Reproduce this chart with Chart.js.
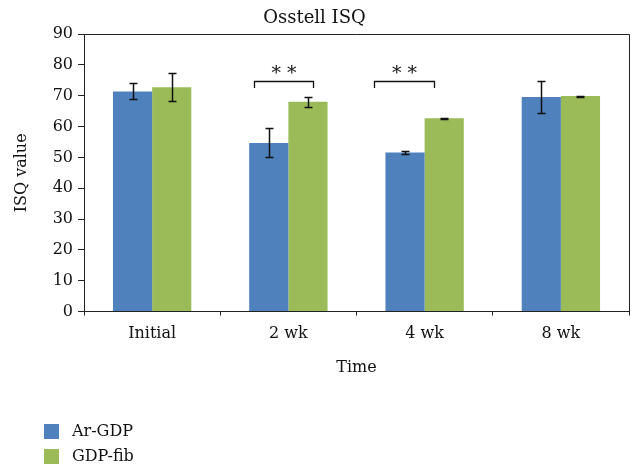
<!DOCTYPE html>
<html>
<head>
<meta charset="utf-8">
<script src="https://cdn.jsdelivr.net/npm/chart.js@4"></script>
<style>
  html, body { margin: 0; padding: 0; background: #fff; }
  #wrap { width: 644px; height: 468px; }
</style>
</head>
<body>
<div id="wrap"><canvas id="chart" width="644" height="468"></canvas></div>
<script>
// values
const categories = ['Initial', '2 wk', '4 wk', '8 wk'];
const arGdp = [71.4, 54.7, 51.6, 69.6];
const arGdpErr = [2.6, 4.7, 0.6, 5.2];
const gdpFib = [72.8, 68.1, 62.7, 69.9];
const gdpFibErr = [4.5, 1.6, 0.2, 0.15];
const yTicks = [0, 10, 20, 30, 40, 50, 60, 70, 80, 90];

// significance brackets: category index, bracket top value, drop value
const sigCats = [1, 2];
const sigTop = [74.7, 74.7];
const sigDrop = [72.5, 72.5];

const serif = '"DejaVu Serif", "Liberation Serif", serif';

let errorBars = {
    id: 'errorBars',
    afterDatasetsDraw(chart) {
        const ctx = chart.ctx;
        const y = chart.scales.y;
        ctx.save();
        ctx.strokeStyle = '#111';
        ctx.lineWidth = 1.5;
        chart.data.datasets.forEach((ds, i) => {
            const meta = chart.getDatasetMeta(i);
            meta.data.forEach((bar, j) => {
                const v = ds.data[j];
                const e = ds.errors[j];
                const top = Math.round(y.getPixelForValue(v + e)) + 0.5;
                const bot = Math.round(y.getPixelForValue(v - e)) + 0.5;
                const x = Math.round(bar.x) + 0.5;
                ctx.beginPath();
                ctx.moveTo(x, top); ctx.lineTo(x, bot);
                ctx.moveTo(x - 4, top); ctx.lineTo(x + 4, top);
                ctx.moveTo(x - 4, bot); ctx.lineTo(x + 4, bot);
                ctx.stroke();
            });
        });
        ctx.restore();
    }
};

let extras = {
    id: 'extras',
    afterDraw(chart) {
        const ctx = chart.ctx;
        const xs = chart.scales.x;
        const ys = chart.scales.y;
        const area = chart.chartArea;
        ctx.save();
        // plot frame: top and right
        ctx.strokeStyle = '#222';
        ctx.lineWidth = 1;
        ctx.beginPath();
        ctx.moveTo(area.left, Math.round(area.top) + 0.5);
        ctx.lineTo(Math.round(area.right) + 0.5, Math.round(area.top) + 0.5);
        ctx.lineTo(Math.round(area.right) + 0.5, area.bottom);
        ctx.stroke();

        // brackets with **
        const catW = (xs.getPixelForValue(1) - xs.getPixelForValue(0));
        const spans = [[-0.25, 0.18], [-0.37, 0.07]];
        ctx.lineWidth = 1.3;
        ctx.strokeStyle = '#111';
        ctx.fillStyle = '#111';
        ctx.font = '19px ' + serif;
        ctx.textAlign = 'center';
        ctx.textBaseline = 'middle';
        sigCats.forEach((c, i) => {
            const cx = xs.getPixelForValue(c);
            const x1 = Math.round(cx + spans[i][0] * catW) + 0.5;
            const x2 = Math.round(cx + spans[i][1] * catW) + 0.5;
            const yt = Math.round(ys.getPixelForValue(sigTop[i])) + 0.5;
            const yd = ys.getPixelForValue(sigDrop[i]);
            ctx.beginPath();
            ctx.moveTo(x1, yd); ctx.lineTo(x1, yt); ctx.lineTo(x2, yt); ctx.lineTo(x2, yd);
            ctx.stroke();
            ctx.fillText('* *', (x1 + x2) / 2, yt - 7);
        });

        // legend, stacked at bottom left
        ctx.textAlign = 'left';
        chart.data.datasets.forEach((ds, i) => {
            const cy = 432 + i * 25;
            ctx.fillStyle = ds.backgroundColor;
            ctx.fillRect(44, cy - 8, 15, 15);
            ctx.fillStyle = '#111';
            ctx.font = '16px ' + serif;
            ctx.fillText(ds.label, 72, cy);
        });
        ctx.restore();
    }
};

new Chart(document.getElementById('chart'), {
    type: 'bar',
    data: {
        labels: categories,
        datasets: [
            { label: 'Ar-GDP', data: arGdp, errors: arGdpErr, backgroundColor: '#4F81BD' },
            { label: 'GDP-fib', data: gdpFib, errors: gdpFibErr, backgroundColor: '#9BBB59' }
        ]
    },
    options: {
        responsive: false,
        animation: false,
        datasets: { bar: { categoryPercentage: 0.575, barPercentage: 1.0 } },
        layout: { padding: { left: 0, right: 15, top: 0, bottom: 91 } },
        plugins: {
            legend: { display: false },
            tooltip: { enabled: false },
            title: {
                display: true,
                text: 'Osstell ISQ',
                color: '#111',
                font: { family: serif, size: 18, weight: 'normal' },
                padding: { top: 8, bottom: 4.5 }
            }
        },
        scales: {
            x: {
                grid: { display: true, drawOnChartArea: false, drawTicks: true, tickLength: 4, color: '#222', offset: true },
                border: { color: '#222', width: 1 },
                ticks: { color: '#111', font: { family: serif, size: 16 }, padding: 9, maxRotation: 0 },
                title: { display: true, text: 'Time', color: '#111', font: { family: serif, size: 16 }, padding: { top: 5, bottom: 0 } }
            },
            y: {
                min: 0,
                max: 90,
                afterBuildTicks: (scale) => { scale.ticks = yTicks.map(v => ({ value: v })); },
                afterFit: (scale) => { scale.width = 84; },
                grid: { display: true, drawOnChartArea: false, drawTicks: true, tickLength: 6, color: '#222' },
                border: { color: '#222', width: 1 },
                ticks: { color: '#111', font: { family: serif, size: 16 }, padding: 5 },
                title: { display: true, text: 'ISQ value', color: '#111', font: { family: serif, size: 16 }, padding: { top: 12, bottom: 0 } }
            }
        }
    },
    plugins: [errorBars, extras]
});
</script>
</body>
</html>
